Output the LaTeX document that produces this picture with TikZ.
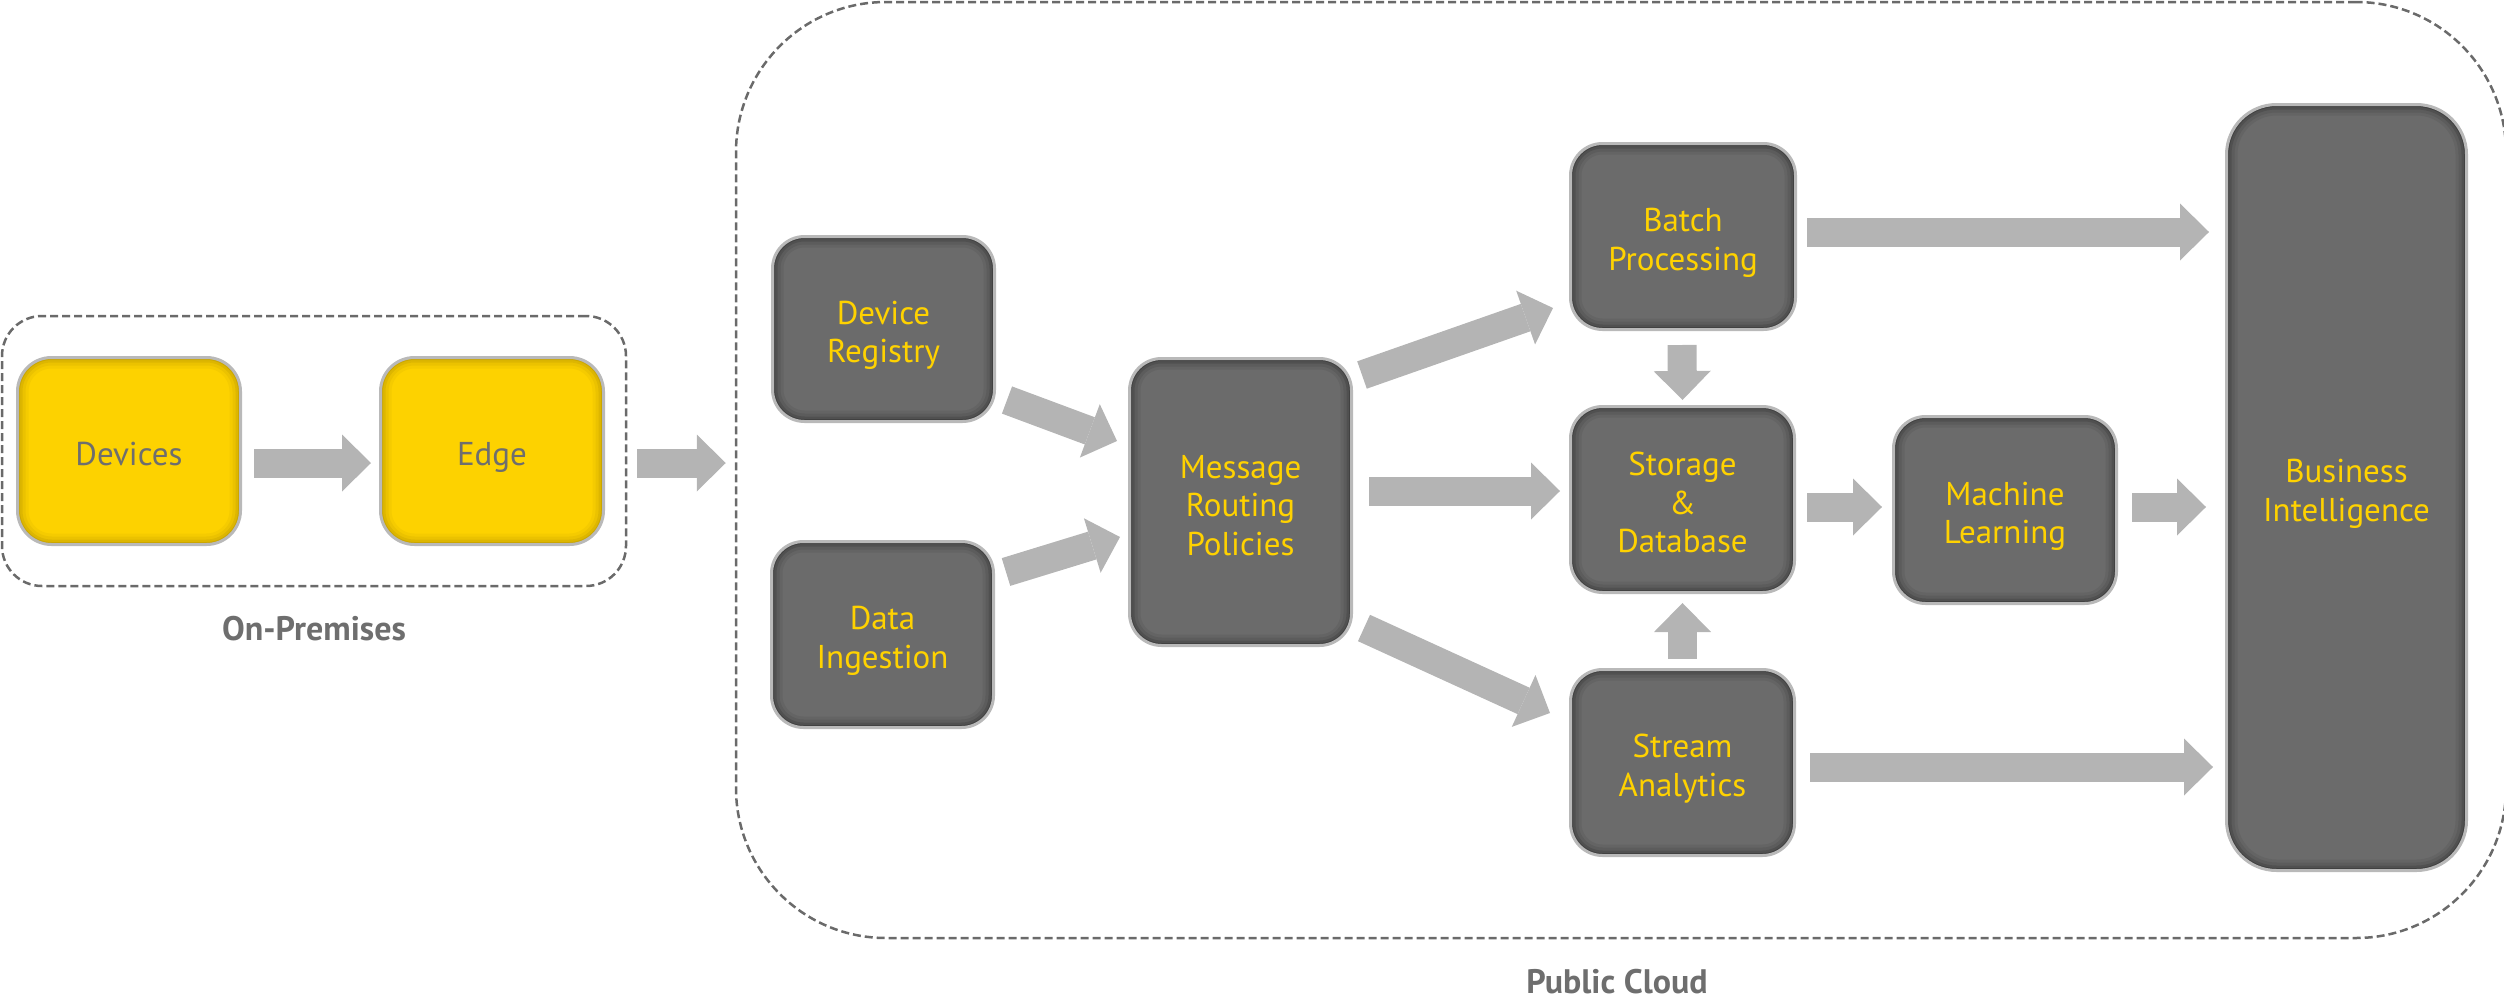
\documentclass[tikz,border=0pt]{standalone}
\usepackage{fontspec}
\setmainfont{PT Sans}
\usetikzlibrary{arrows.meta,calc}
\definecolor{boxgray}{HTML}{6B6B6B}
\definecolor{txtyellow}{HTML}{FFD200}
\definecolor{boxyellow}{HTML}{FDD200}
\definecolor{yshadow}{HTML}{7A6200}
\definecolor{bordergray}{HTML}{B9B9B9}
\definecolor{arrowgray}{HTML}{B4B4B4}
\definecolor{dashgray}{HTML}{6A6A6A}
\definecolor{labelgray}{HTML}{6E6E6E}
\newcommand{\innershade}[2]{%
  \foreach \lw/\op in {22/0.06,16/0.08,10/0.12,5/0.18}{%
    \draw[draw=#2, line width=\lw pt, opacity=\op, rounded corners=#1]
      (path picture bounding box.south west) rectangle (path picture bounding box.north east);
  }}
\newcommand{\boxtext}[1]{\raisebox{-7pt}[\height][\depth]{\begin{tabular}{@{}c@{}}#1\end{tabular}}}
\tikzset{
  boxbase/.style={draw=bordergray, line width=3pt, inner sep=0pt,
    font=\fontsize{33}{38.5}\selectfont},
  gbox/.style={boxbase, fill=boxgray, text=txtyellow, rounded corners=32pt,
    path picture={\innershade{32pt}{black}}},
  ybox/.style={boxbase, fill=boxyellow, text=labelgray, rounded corners=34pt,
    path picture={\innershade{34pt}{yshadow}}},
  dbox/.style={draw=dashgray, line width=2.5pt, dash pattern=on 8pt off 4pt},
  lbl/.style={text=labelgray, font=\bfseries\fontsize{34}{38}\selectfont},
  barrow/.style={draw=arrowgray, line width=29pt,
    -{Triangle[width=57pt,length=29pt,line width=0pt]}},
}
\begin{document}
\begin{tikzpicture}[x=1pt,y=-1pt]
\useasboundingbox (0,0) rectangle (2504,1001);
% containers
\node[dbox, rounded corners=40pt, minimum width=624pt, minimum height=270pt] (onprem) at (314,451) {};
\node[dbox, rounded corners=150pt, minimum width=1770pt, minimum height=936pt] (cloud) at (1621,470) {};
\node[lbl] (onpremlbl) at (314,629) {On-Premises};
\node[lbl] (cloudlbl) at (1617,982) {Public Cloud};
% on-premises nodes
\node[ybox, minimum width=223pt, minimum height=187pt] (dev) at (129,451) {\boxtext{Devices}};
\node[ybox, minimum width=223pt, minimum height=187pt] (edge) at (492,451) {\boxtext{Edge}};
% cloud nodes
\node[gbox, minimum width=222pt, minimum height=185pt] (dr) at (883.5,329) {\boxtext{Device\\Registry}};
\node[gbox, minimum width=222pt, minimum height=186pt] (di) at (882.5,634.5) {\boxtext{Data\\Ingestion}};
\node[gbox, minimum width=222pt, minimum height=287pt] (mrp) at (1240.5,502) {\boxtext{Message\\Routing\\Policies}};
\node[gbox, minimum width=225pt, minimum height=186pt] (bp) at (1683,236.5) {\boxtext{Batch\\Processing}};
\node[gbox, minimum width=224pt, minimum height=186pt] (sd) at (1682.5,499.5) {\boxtext{Storage\\\&\\Database}};
\node[gbox, minimum width=224pt, minimum height=186pt] (sa) at (1682.5,762.5) {\boxtext{Stream\\Analytics}};
\node[gbox, minimum width=223pt, minimum height=187pt] (ml) at (2005,510) {\boxtext{Machine\\Learning}};
\node[gbox, rounded corners=50pt, path picture={\innershade{50pt}{black}},
      minimum width=240pt, minimum height=766pt] (bi) at (2346.5,487.5) {\boxtext{Business\\Intelligence}};
% arrows
\draw[barrow] ($(dev.east)+(12,12)$) -- ($(edge.west)+(-8,12)$);
\draw[barrow] ($(edge.east)+(32,12)$) -- ($(edge.east -| cloud.west)+(-9,12)$);
\draw[barrow] ($(dr.east)+(11,71)$) -- ($(mrp.west)+(-11,-61)$);
\draw[barrow] ($(di.east)+(11,-62.5)$) -- ($(mrp.west)+(-8,35)$);
\draw[barrow] ($(mrp.east)+(9,-127)$) -- ($(bp.west)+(-16,71.5)$);
\draw[barrow] ($(mrp.east)+(16,-11)$) -- ($(sd.west)+(-9,-8.5)$);
\draw[barrow] ($(mrp.east)+(11,126)$) -- ($(sa.west)+(-19,-49.5)$);
\draw[barrow] ($(bp.south)+(-1,14)$) -- ($(sd.north)+(0,-5)$);
\draw[barrow] ($(sa.north)+(0,-9)$) -- ($(sd.south)+(0,9)$);
\draw[barrow] ($(sd.east)+(11,7.5)$) -- ($(ml.west)+(-10,-3)$);
\draw[barrow] ($(ml.east)+(14,-3)$) -- ($(bi.west)+(-19,19.5)$);
\draw[barrow] ($(bp.east)+(10,-4.5)$) -- ($(bi.west)+(-16,-255.5)$);
\draw[barrow] ($(sa.east)+(14,4.5)$) -- ($(bi.west)+(-12,279.5)$);
\end{tikzpicture}
\end{document}
